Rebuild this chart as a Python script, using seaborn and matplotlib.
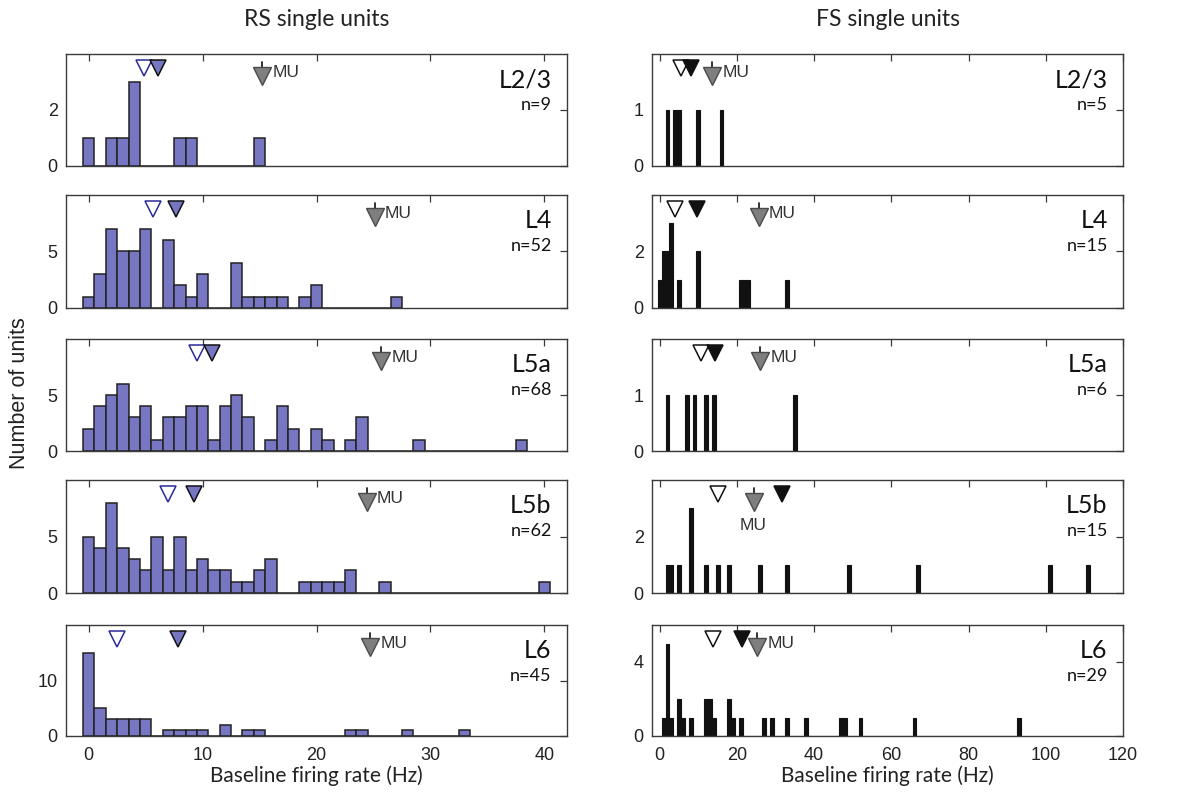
import numpy as np
import pandas as pd
import matplotlib
matplotlib.use("Agg")
import matplotlib.pyplot as plt
import matplotlib.transforms as mtransforms
import seaborn as sns

# ---------------- data ----------------
layers = ["L2/3", "L4", "L5a", "L5b", "L6"]

# RS single units: histogram bin centres (Hz) and counts
rs_l23_rate = [0, 2, 3, 4, 8, 9, 15]
rs_l23_count = [1, 1, 1, 3, 1, 1, 1]
rs_l4_rate = [0, 1, 2, 3, 4, 5, 7, 8, 9, 10, 13, 14, 15, 16, 17, 19, 20, 27]
rs_l4_count = [1, 3, 7, 5, 5, 7, 6, 2, 1, 3, 4, 1, 1, 1, 1, 1, 2, 1]
rs_l5a_rate = [0, 1, 2, 3, 4, 5, 6, 7, 8, 9, 10, 11, 12, 13, 14, 16, 17, 18, 20, 21, 23, 24, 29, 38]
rs_l5a_count = [2, 4, 5, 6, 3, 4, 1, 3, 3, 4, 4, 1, 4, 5, 3, 1, 4, 2, 2, 1, 1, 3, 1, 1]
rs_l5b_rate = [0, 1, 2, 3, 4, 5, 6, 7, 8, 9, 10, 11, 12, 13, 14, 15, 16, 19, 20, 21, 22, 23, 26, 40]
rs_l5b_count = [5, 4, 8, 4, 3, 2, 5, 2, 5, 2, 3, 2, 2, 1, 1, 2, 3, 1, 1, 1, 1, 2, 1, 1]
rs_l6_rate = [0, 1, 2, 3, 4, 5, 7, 8, 9, 10, 12, 14, 15, 23, 24, 28, 33]
rs_l6_count = [15, 5, 3, 3, 3, 3, 1, 1, 1, 1, 2, 1, 1, 1, 1, 1, 1]

# FS single units
fs_l23_rate = [2, 4, 5, 10, 16]
fs_l23_count = [1, 1, 1, 1, 1]
fs_l4_rate = [0, 1, 2, 3, 5, 10, 21, 22, 23, 33]
fs_l4_count = [1, 2, 2, 3, 1, 2, 1, 1, 1, 1]
fs_l5a_rate = [2, 7, 9, 12, 14, 35]
fs_l5a_count = [1, 1, 1, 1, 1, 1]
fs_l5b_rate = [2, 3, 5, 8, 12, 15, 18, 26, 33, 49, 67, 101, 111]
fs_l5b_count = [1, 1, 1, 3, 1, 1, 1, 1, 1, 1, 1, 1, 1]
fs_l6_rate = [1, 2, 3, 5, 6, 8, 12, 13, 14, 18, 19, 21, 27, 29, 33, 38, 47, 48, 52, 66, 93]
fs_l6_count = [1, 5, 1, 2, 1, 1, 2, 2, 1, 2, 1, 1, 1, 1, 1, 1, 1, 1, 1, 1, 1]

rs_n = [9, 52, 68, 62, 45]
fs_n = [5, 15, 6, 15, 29]

# marker positions (Hz): open = median, filled = mean, MU = multi-unit mean
rs_open = [4.85, 5.6, 9.5, 7.0, 2.5]
rs_filled = [6.05, 7.7, 10.85, 9.2, 7.8]
rs_mu = [15.2, 25.1, 25.7, 24.4, 24.7]
fs_open = [5.6, 3.9, 10.8, 15.1, 13.8]
fs_filled = [8.1, 9.7, 14.3, 31.7, 21.3]
fs_mu = [13.6, 25.6, 25.9, 24.3, 25.2]

rs_ymax = [4, 10, 10, 10, 20]
rs_yticks = [[0, 2], [0, 5], [0, 5], [0, 5], [0, 10]]
fs_ymax = [2, 4, 2, 4, 6]
fs_yticks = [[0, 1], [0, 2], [0, 1], [0, 2], [0, 4]]

rs_rates = [rs_l23_rate, rs_l4_rate, rs_l5a_rate, rs_l5b_rate, rs_l6_rate]
rs_counts = [rs_l23_count, rs_l4_count, rs_l5a_count, rs_l5b_count, rs_l6_count]
fs_rates = [fs_l23_rate, fs_l4_rate, fs_l5a_rate, fs_l5b_rate, fs_l6_rate]
fs_counts = [fs_l23_count, fs_l4_count, fs_l5a_count, fs_l5b_count, fs_l6_count]

# ---------------- style ----------------
sns.set_style("white")
plt.rcParams["font.family"] = ["Liberation Sans", "DejaVu Sans"]
LBL = ["Lato", "DejaVu Sans"]

W, H = 1185, 792
fig = plt.figure(figsize=(W / 100, H / 100), dpi=100)

rows_px = [(54, 166), (195, 308), (339, 451), (480, 593), (625, 736)]
cols_px = [(66, 567), (652, 1123)]

RS_COLOR = "#7676C2"
SPINE = "#3a3a3a"


def make_ax(col, row):
    x0, x1 = cols_px[col]
    t, b = rows_px[row]
    return fig.add_axes([x0 / W, 1 - b / H, (x1 - x0) / W, (b - t) / H])


def draw_panel(ax, rate, count, kind, i):
    df = pd.DataFrame({"rate": rate, "count": count})
    if kind == "RS":
        sns.histplot(data=df, x="rate", weights="count", discrete=True, ax=ax,
                     color=RS_COLOR, edgecolor="#222222", linewidth=1.1, alpha=1,
                     shrink=1)
        xlim, xticks = (-2, 42), [0, 10, 20, 30, 40]
        ymax, yt = rs_ymax[i], rs_yticks[i]
        opn, fil, mu, n = rs_open[i], rs_filled[i], rs_mu[i], rs_n[i]
        open_edge, fill_face, fill_edge = "#2a2a9a", RS_COLOR, "#111111"
    else:
        sns.histplot(data=df, x="rate", weights="count", discrete=True, ax=ax,
                     color="#111111", edgecolor="#111111", linewidth=0.8, alpha=1,
                     shrink=1)
        xlim, xticks = (-2, 120), [0, 20, 40, 60, 80, 100, 120]
        ymax, yt = fs_ymax[i], fs_yticks[i]
        opn, fil, mu, n = fs_open[i], fs_filled[i], fs_mu[i], fs_n[i]
        open_edge, fill_face, fill_edge = "#111111", "#111111", "#111111"

    ax.set_xlim(*xlim)
    ax.set_ylim(0, ymax)
    ax.set_xticks(xticks)
    ax.set_yticks(yt)
    ax.set_xlabel("")
    ax.set_ylabel("")
    ax.tick_params(direction="in", top=True, right=True, length=5, width=0.9,
                   color=SPINE, labelsize=13, pad=6, labelcolor="#222222")
    ax.tick_params(axis="x", pad=8)
    if i < 4:
        ax.set_xticklabels([])
    for s in ax.spines.values():
        s.set_color(SPINE)
        s.set_linewidth(1.0)

    tr = mtransforms.blended_transform_factory(ax.transData, ax.transAxes)
    ax.plot([opn], [0.875], marker="v", ms=12, mfc="white", mec=open_edge,
            mew=1.1, transform=tr, clip_on=False, zorder=5)
    ax.plot([fil], [0.875], marker="v", ms=12, mfc=fill_face, mec=fill_edge,
            mew=1.1, transform=tr, clip_on=False, zorder=6)
    ax.plot([mu, mu], [0.93, 0.87], color="#222222", lw=1.3, transform=tr,
            zorder=6)
    ax.plot([mu], [0.805], marker="v", ms=12.5, mfc="#7f7f7f", mec="#4a4a4a",
            mew=1.0, transform=tr, zorder=7)
    if kind == "FS" and i == 3:
        ax.annotate("MU", xy=(mu, 0.60), xycoords=tr, ha="center", va="center",
                    fontsize=12.5, color="#333333")
    else:
        ax.annotate("MU", xy=(mu, 0.835), xycoords=tr, xytext=(7.5, 0),
                    textcoords="offset points", ha="left", va="center",
                    fontsize=12.5, color="#333333")

    ax.annotate(layers[i], xy=(1, 0.77), xycoords="axes fraction",
                xytext=(-11, 0), textcoords="offset points", ha="right",
                va="center", fontsize=18, family=LBL, color="#111111")
    ax.annotate(f"n={n}", xy=(1, 0.545), xycoords="axes fraction",
                xytext=(-11, 0), textcoords="offset points", ha="right",
                va="center", fontsize=13, family=LBL, color="#111111")


for i in range(5):
    draw_panel(make_ax(0, i), rs_rates[i], rs_counts[i], "RS", i)
    draw_panel(make_ax(1, i), fs_rates[i], fs_counts[i], "FS", i)

# titles and axis labels
fig.text(((66 + 567) / 2) / W, 1 - 20 / H, "RS single units", ha="center",
         va="center", fontsize=16.5, family=LBL, color="#222222")
fig.text(((652 + 1123) / 2) / W, 1 - 20 / H, "FS single units", ha="center",
         va="center", fontsize=16.5, family=LBL, color="#222222")
fig.text(((66 + 567) / 2) / W, 1 - 776 / H, "Baseline firing rate (Hz)",
         ha="center", va="center", fontsize=15, family=LBL, color="#222222")
fig.text(((652 + 1123) / 2) / W, 1 - 776 / H, "Baseline firing rate (Hz)",
         ha="center", va="center", fontsize=15, family=LBL, color="#222222")
fig.text(20 / W, 1 - 393 / H, "Number of units", rotation=90, ha="center",
         va="center", fontsize=15.5, color="#222222")

fig.savefig("out.png", dpi=100)
